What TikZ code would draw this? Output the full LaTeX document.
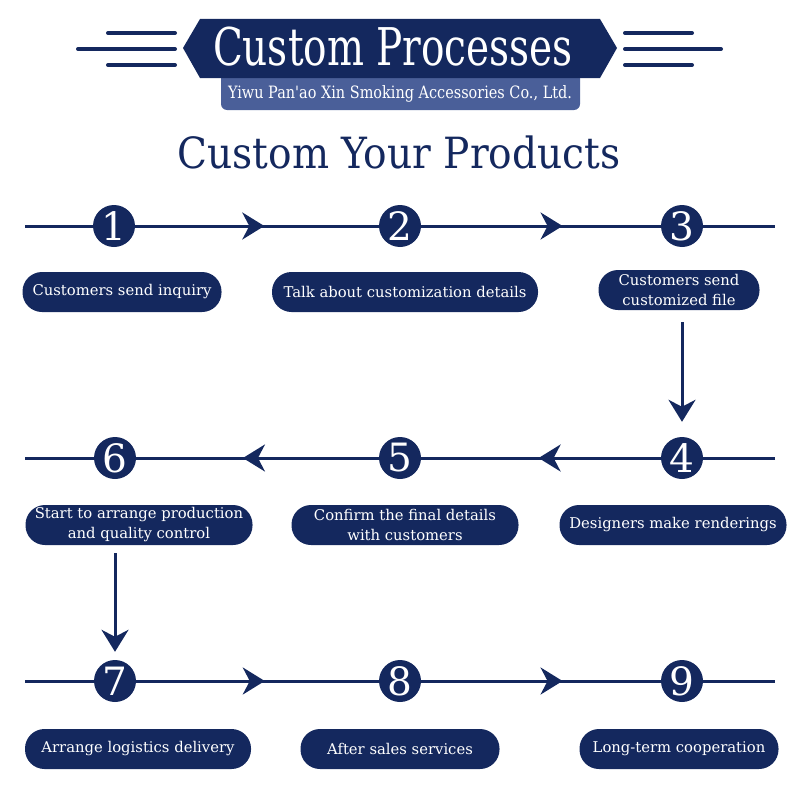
\documentclass[tikz,border=0pt]{standalone}
\usepackage{fontspec}
\setmainfont{DejaVu Serif}
\newfontfamily\titlefont[FakeStretch=0.75]{DejaVu Serif}
\newfontfamily\subfont[FakeStretch=0.85]{DejaVu Serif}
\newfontfamily\bigfont[FakeStretch=0.91]{DejaVu Serif}
\usetikzlibrary{arrows.meta,decorations.markings}
\definecolor{navy}{RGB}{20,40,94}
\definecolor{steel}{RGB}{74,95,153}
\begin{document}
\begin{tikzpicture}[x=1pt,y=-1pt,
  >={Stealth[length=22pt,width=27pt,inset=7pt]},
  num/.style={circle,fill=navy,minimum size=42pt,inner sep=0pt,text=white,font=\fontsize{39}{39}\selectfont},
  pill/.style={rectangle,rounded corners=19.5pt,fill=navy,minimum height=40pt,text=white,font=\fontsize{14.8}{20}\selectfont,align=center,inner sep=0pt},
  flow/.style={draw=navy,line width=3pt},
  markarrow/.style={postaction={decorate},decoration={markings,mark=at position #1 with {\arrow[navy]{>}}}},
  deco/.style={draw=navy,line width=4pt,line cap=round}
]
\useasboundingbox (0,0) rectangle (800,800);

% header
\coordinate (hl1a) at (108,33); \coordinate (hl1b) at (175,33);
\coordinate (hl2a) at (78,49);  \coordinate (hl2b) at (175,49);
\coordinate (hl3a) at (108,65); \coordinate (hl3b) at (175,65);
\coordinate (hr1a) at (625,33); \coordinate (hr1b) at (692,33);
\coordinate (hr2a) at (625,49); \coordinate (hr2b) at (721,49);
\coordinate (hr3a) at (625,65); \coordinate (hr3b) at (692,65);
\draw[deco] (hl1a) -- (hl1b); \draw[deco] (hl2a) -- (hl2b); \draw[deco] (hl3a) -- (hl3b);
\draw[deco] (hr1a) -- (hr1b); \draw[deco] (hr2a) -- (hr2b); \draw[deco] (hr3a) -- (hr3b);

\fill[steel, rounded corners=6pt] (221,70) -- (580,70) -- (580,110) -- (221,110) -- cycle;
\fill[navy] (183,48) -- (200,19) -- (600,19) -- (617,48) -- (600,78) -- (200,78) -- cycle;
\node[text=white,font=\titlefont\fontsize{52}{52}\selectfont] (title) at (393,47) {Custom Processes};
\node[text=white,font=\subfont\fontsize{17}{17}\selectfont] (sub) at (400,94) {Yiwu Pan'ao Xin Smoking Accessories Co., Ltd.};

\node[text=navy,font=\bigfont\fontsize{43}{43}\selectfont] (main) at (399,152) {Custom Your Products};

% row 1
\node[num] (c1) at (114,226) {1};
\node[num] (c2) at (400,226) {2};
\node[num] (c3) at (682,226) {3};
\coordinate (l1) at (25,226); \coordinate (r1) at (775,226);
\draw[flow] (l1) -- (c1);
\draw[flow,markarrow=0.53] (c1) -- (c2);
\draw[flow,markarrow=0.59] (c2) -- (c3);
\draw[flow] (c3) -- (r1);

\node[pill,minimum width=199pt] (p1) at (122,292) {Customers send inquiry};
\node[pill,minimum width=266pt] (p2) at (405,292) {Talk about customization details};
\node[pill,minimum width=161pt] (p3) at (679,290) {Customers send\\customized file};

% row 2
\node[num] (c4) at (682,458) {4};
\node[num] (c5) at (400,458) {5};
\node[num] (c6) at (115,458) {6};
\coordinate (l2) at (25,458); \coordinate (r2) at (775,458);
\draw[flow] (r2) -- (c4);
\draw[flow,markarrow=0.51] (c4) -- (c5);
\draw[flow,markarrow=0.56] (c5) -- (c6);
\draw[flow] (c6) -- (l2);

\node[pill,minimum width=227pt] (p6) at (139,525) {Start to arrange production\\and quality control};
\node[pill,minimum width=227pt] (p5) at (405,525) {Confirm the final details\\with customers};
\node[pill,minimum width=227pt] (p4) at (673,525) {Designers make renderings};

% row 3
\node[num] (c7) at (115,681) {7};
\node[num] (c8) at (400,681) {8};
\node[num] (c9) at (682,681) {9};
\coordinate (l3) at (25,681); \coordinate (r3) at (775,681);
\draw[flow] (l3) -- (c7);
\draw[flow,markarrow=0.53] (c7) -- (c8);
\draw[flow,markarrow=0.59] (c8) -- (c9);
\draw[flow] (c9) -- (r3);

\node[pill,minimum width=226pt] (p7) at (138,749) {Arrange logistics delivery};
\node[pill,minimum width=199pt] (p8) at (400,749) {After sales services};
\node[pill,minimum width=199pt] (p9) at (679,749) {Long-term cooperation};

% vertical arrows
\draw[flow,->,shorten <=12pt,shorten >=15pt] (p3.south -| c4.north) -- (c4.north);
\draw[flow,->,shorten <=8pt,shorten >=8pt] (p6.south -| c7.north) -- (c7.north);
\end{tikzpicture}
\end{document}
